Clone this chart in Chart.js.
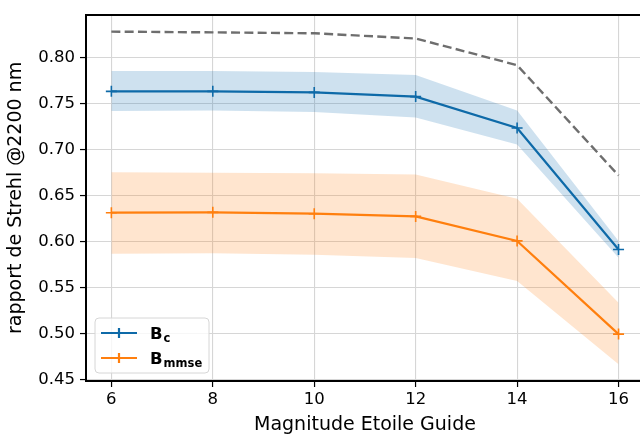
<!DOCTYPE html>
<html>
<head>
<meta charset="utf-8">
<script src="https://cdn.jsdelivr.net/npm/chart.js@4/dist/chart.umd.min.js"></script>
<style>
html,body{margin:0;padding:0;background:#fff;overflow:hidden;}
#wrap{position:relative;width:651px;height:437px;}
</style>
</head>
<body>
<div id="wrap"><canvas id="c"></canvas></div>
<script>
const magnitudes = [6, 8, 10, 12, 14, 16];
const bcMean = [0.7635, 0.7635, 0.7624, 0.7578, 0.7236, 0.5915];
const bcUpper = [0.7857, 0.7857, 0.7846, 0.7814, 0.7428, 0.6008];
const bcLower = [0.7421, 0.7428, 0.7410, 0.7350, 0.7057, 0.5826];
const mmseMean = [0.6315, 0.6319, 0.6304, 0.6275, 0.6008, 0.4994];
const mmseUpper = [0.6754, 0.6750, 0.6743, 0.6730, 0.6468, 0.5336];
const mmseLower = [0.5868, 0.5875, 0.5858, 0.5823, 0.5573, 0.4666];
const reference = [0.8285, 0.8277, 0.8267, 0.8210, 0.7920, 0.6720];
const xTicks = [6, 8, 10, 12, 14, 16];
const yTicks = [0.45, 0.50, 0.55, 0.60, 0.65, 0.70, 0.75, 0.80];

const BLUE = '#0e6aa8';
const ORANGE = '#ff7f0e';
const pts = arr => arr.map((v, i) => ({x: magnitudes[i], y: v}));
const FONT = '"DejaVu Sans", sans-serif';

const frame = {
  id: 'frame',
  afterDraw(chart) {
    const {ctx, chartArea: a} = chart;
    ctx.save();
    ctx.strokeStyle = '#000';
    ctx.lineWidth = 2;
    ctx.beginPath();
    ctx.moveTo(a.left - 1, a.top);
    ctx.lineTo(a.right + 1, a.top);
    ctx.stroke();
    // legend
    const bx = 95, by = 318, bw = 114, bh = 55, r = 4;
    ctx.beginPath();
    ctx.moveTo(bx + r, by);
    ctx.arcTo(bx + bw, by, bx + bw, by + bh, r);
    ctx.arcTo(bx + bw, by + bh, bx, by + bh, r);
    ctx.arcTo(bx, by + bh, bx, by, r);
    ctx.arcTo(bx, by, bx + bw, by, r);
    ctx.closePath();
    ctx.fillStyle = 'rgba(255,255,255,0.8)';
    ctx.fill();
    ctx.strokeStyle = '#d6d6d6';
    ctx.lineWidth = 1;
    ctx.stroke();
    const rows = [[BLUE, 'c', 333], [ORANGE, 'mmse', 358]];
    rows.forEach(([col, sub, y]) => {
      ctx.strokeStyle = col;
      ctx.lineWidth = 2.2;
      ctx.beginPath();
      ctx.moveTo(101, y); ctx.lineTo(137, y);
      ctx.moveTo(119, y - 5); ctx.lineTo(119, y + 5);
      ctx.stroke();
      ctx.fillStyle = '#000';
      ctx.textBaseline = 'alphabetic';
      ctx.font = 'bold 16.5px ' + FONT;
      ctx.fillText('B', 150, y + 6);
      const w = ctx.measureText('B').width;
      ctx.font = 'bold 11.5px ' + FONT;
      ctx.fillText(sub, 150 + w + 1, y + 9);
    });
    ctx.restore();
  }
};

const lineDs = (label, data, color, order) => ({
  label, data: pts(data), borderColor: color, backgroundColor: color,
  borderWidth: 2.2, pointStyle: 'cross', pointRadius: 5.5, pointBorderWidth: 1.6,
  pointBorderColor: color, fill: false, tension: 0, order
});
const bandDs = (data, color, fill, order) => ({
  data: pts(data), borderWidth: 0, borderColor: 'rgba(0,0,0,0)', pointRadius: 0,
  backgroundColor: color, fill, tension: 0, order
});

new Chart(document.getElementById('c'), {
  type: 'line',
  data: {
    datasets: [
      lineDs('Bc', bcMean, BLUE, 0),
      lineDs('Bmmse', mmseMean, ORANGE, 1),
      {data: pts(reference), borderColor: '#6e6e6e', borderWidth: 2.4, borderDash: [9, 4.3],
       pointRadius: 0, fill: false, tension: 0, order: 2},
      bandDs(bcUpper, 'rgba(31,119,180,0.22)', '+1', 3),
      bandDs(bcLower, 'rgba(0,0,0,0)', false, 4),
      bandDs(mmseUpper, 'rgba(255,127,14,0.2)', '+1', 5),
      bandDs(mmseLower, 'rgba(0,0,0,0)', false, 6)
    ]
  },
  options: {
    responsive: true, maintainAspectRatio: false, animation: false,
    layout: {padding: {left: 0, top: 9, right: 2, bottom: 0}},
    plugins: {legend: {display: false}, tooltip: {enabled: false}},
    scales: {
      x: {
        type: 'linear', min: 5.5, max: 16.5,
        afterBuildTicks: s => { s.ticks = xTicks.map(v => ({value: v})); },
        afterFit: s => { s.height = 56; },
        grid: {color: '#d6d6d6', lineWidth: 1.1, tickColor: '#000', tickLength: 6, tickWidth: 1.2},
        border: {display: true, color: '#000', width: 2},
        ticks: {color: '#000', font: {family: FONT, size: 16.5}, padding: 3, maxRotation: 0,
                callback: v => String(v)},
        title: {display: true, text: 'Magnitude Etoile Guide', color: '#000',
                font: {family: FONT, size: 19}, padding: {top: 0, bottom: 1}}
      },
      y: {
        type: 'linear', min: 0.4484, max: 0.8467,
        afterBuildTicks: s => { s.ticks = yTicks.map(v => ({value: v})); },
        afterFit: s => { s.width = 86; },
        grid: {color: '#d6d6d6', lineWidth: 1.1, tickColor: '#000', tickLength: 6, tickWidth: 1.2},
        border: {display: true, color: '#000', width: 2},
        ticks: {color: '#000', font: {family: FONT, size: 16.5}, padding: 5,
                callback: v => Number(v).toFixed(2)},
        title: {display: true, text: 'rapport de Strehl @2200 nm', color: '#000',
                font: {family: FONT, size: 19}, padding: {top: 5, bottom: 4}}
      }
    }
  },
  plugins: [frame]
});
</script>
</body>
</html>
